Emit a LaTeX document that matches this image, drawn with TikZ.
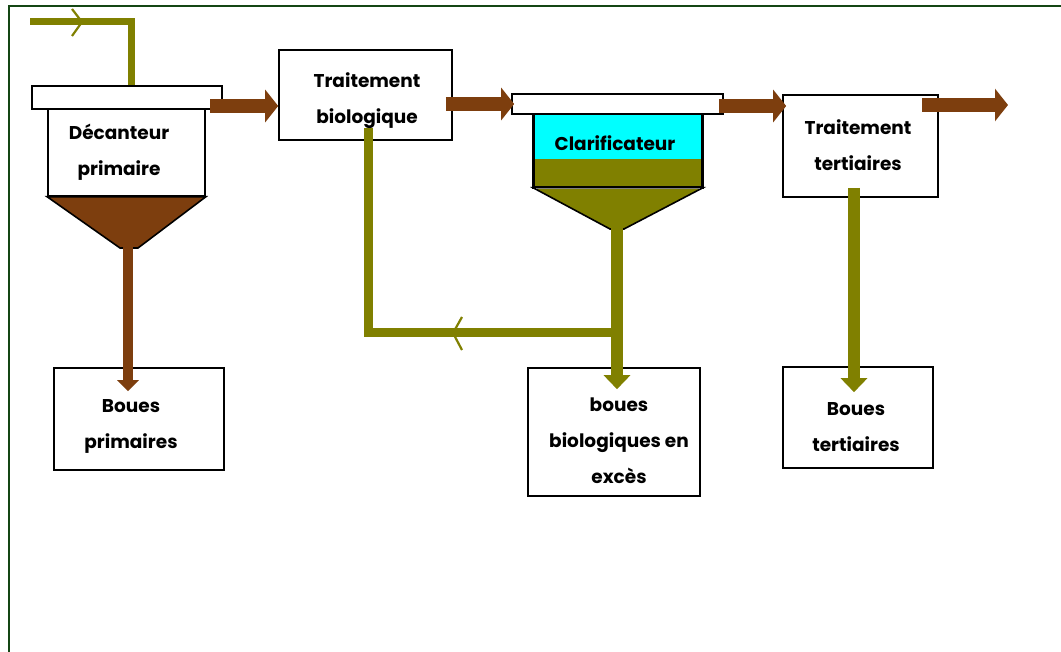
\documentclass[tikz,border=0pt]{standalone}
\usepackage{fontspec}
\setmainfont{Poppins}
\usetikzlibrary{arrows.meta}
\definecolor{brownpipe}{RGB}{125,62,14}
\definecolor{olivepipe}{RGB}{128,128,0}
\definecolor{framegreen}{RGB}{20,70,20}
\definecolor{cyanfill}{RGB}{0,255,255}
\begin{document}
\begin{tikzpicture}[x=1pt,y=-1pt,
  box/.style={draw=black, line width=1.6pt, fill=white, inner sep=0pt},
  lbl/.style={font=\fontsize{18.5}{36}\selectfont\bfseries, align=center, inner sep=0pt, text=black},
  bflow/.style={draw=brownpipe, line width=14pt, -{Triangle[length=13pt,width=32pt]}},
  bdown/.style={draw=brownpipe, line width=10pt, -{Triangle[length=11pt,width=21pt]}},
  odown/.style={draw=olivepipe, line width=12pt, -{Triangle[length=14pt,width=26pt]}},
  opipe/.style={draw=olivepipe, line width=9pt},
  chev/.style={draw=olivepipe, line width=2.2pt},
  frame/.style={draw=framegreen, line width=2pt}]
\useasboundingbox (0,0) rectangle (1061,652);
\fill[white] (0,0) rectangle (1061,652);
\draw[frame] (1061,6) -- (9,6) -- (9,652);

% ---------- Decanteur primaire ----------
\coordinate (in0) at (30,22);
\coordinate (in1) at (131,22);
\coordinate (in2) at (131,90);
\draw[draw=olivepipe, line width=7pt] (in0) -- (in1) -- (in2);
\draw[chev] (72,9) -- (82,22) -- (72,36);
\node[box, minimum width=157pt, minimum height=87pt] (body1) at (126.5,152.5) {};
\node[box, minimum width=190pt, minimum height=23pt] (lid1) at (127,97.5) {};
\filldraw[fill=brownpipe, draw=black, line width=1.6pt] (body1.south west) -- (body1.south east) -- (138,248) -- (120,248) -- cycle;
\coordinate (f1) at (128,244);
\node[lbl] (t-dec) at (119,152) {Décanteur\\primaire};

% ---------- Traitement biologique ----------
\node[box, minimum width=173pt, minimum height=90pt] (bio) at (365.5,95) {};
\node[lbl] (t-bio) at (367,100.5) {Traitement\\biologique};

% ---------- Clarificateur ----------
\node[box, fill=cyanfill, minimum width=168pt, minimum height=73pt] (body2) at (618,150.5) {};
\fill[olivepipe] (535,159) rectangle (701,186);
\draw[black, line width=1.6pt] (body2.north west) rectangle (body2.south east);
\node[box, minimum width=211pt, minimum height=20pt] (lid2) at (617.5,104) {};
\filldraw[fill=olivepipe, draw=black, line width=1.6pt] (body2.south west) -- (body2.south east) -- (624,229) -- (610,229) -- cycle;
\draw[gray, line width=1.2pt] (536,188.5) -- (700,188.5);
\coordinate (f2) at (617,225);
\node[lbl] (t-clar) at (615,143) {Clarificateur};

% ---------- Traitement tertiaires ----------
\node[box, minimum width=155pt, minimum height=102pt] (tert) at (860.5,146) {};
\node[lbl] (t-tert) at (858,145) {Traitement\\tertiaires};

% ---------- Boues boxes ----------
\node[box, minimum width=170pt, minimum height=102pt] (bp) at (139,419) {};
\node[lbl] (t-bp) at (131,426) {Boues\\primaires};
\node[box, minimum width=172pt, minimum height=128pt] (bb) at (614,432) {};
\node[lbl] (t-bb) at (619,441) {boues\\biologiques en\\excès};
\node[box, minimum width=150pt, minimum height=101pt] (bt) at (858,417.5) {};
\node[lbl] (t-bt) at (856,427) {Boues\\tertiaires};

% ---------- main flow (brown) ----------
\coordinate (a1) at (210,106);
\draw[bflow] (a1) -- (a1 -| bio.west);
\draw[bflow] ([xshift=-7pt]bio.east |- lid2.west) -- ([xshift=3pt]lid2.west);
\coordinate (a3) at (719,106);
\draw[bflow] (a3) -- ([xshift=4pt]a3 -| tert.west);
\coordinate (a4) at (922,105);
\coordinate (out) at (1008,105);
\draw[bflow] (a4) -- (out);

% ---------- sludge lines ----------
\draw[bdown] (f1) -- ([yshift=-24pt]bp.north -| f1);
\coordinate (r0) at (368,128);
\coordinate (r1) at (617,333);
\draw[opipe] (r0) |- (r1);
\draw[chev] (462,317) -- (453,333) -- (462,350);
\draw[odown] (f2) -- ([yshift=-22pt]bb.north -| f2);
\coordinate (f3) at (854,188);
\draw[odown] (f3) -- ([yshift=-26pt]bt.north -| f3);
\end{tikzpicture}
\end{document}
